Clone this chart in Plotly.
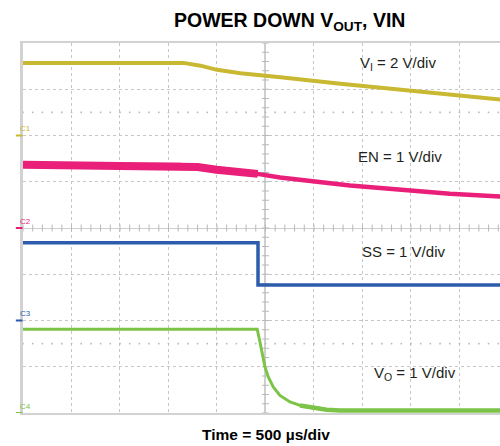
import numpy as np
import plotly.graph_objects as go

# ---- scope settings -------------------------------------------------------
T_PER_DIV = 500.0            # µs per horizontal division
X_RANGE = [-2500.0, 2418.0]  # trigger in the centre, right edge slightly cut
Y_RANGE = [-4.0, 4.0]        # eight vertical divisions

# channel: (ground position in divisions, volts per division, colour)
CH_VI = (2.0, 2.0, "#c9b832")
CH_EN = (0.0, 1.0, "#e91f7a")
CH_SS = (-2.0, 1.0, "#2c5cab")
CH_VO = (-4.0, 1.0, "#7cc447")

# ---- captured waveforms (time in µs, amplitude in volts) -------------------
t_vi = [-2500, -845, -670, -500, -258, 0, 155, 773, 1598, 2420]
v_vi = [3.14, 3.14, 3.02, 2.84, 2.69, 2.59, 2.52, 2.24, 1.91, 1.56]

t_en = [-2500, -880, -700, -503, -80, 150, 871, 1490, 1902, 2420]
v_en = [1.37, 1.36, 1.32, 1.26, 1.17, 1.09, 0.92, 0.81, 0.74, 0.68]

t_ss = [-2500, -77, -77, 2420]
v_ss = [1.68, 1.68, 0.77, 0.77]

t_vo = [-2500, -85, -57, -23, -5, 29, 80, 149, 253, 356, 493, 631, 768, 2420]
v_vo = [1.81, 1.81, 1.535, 1.174, 0.995, 0.778, 0.562, 0.381, 0.238, 0.164,
        0.108, 0.071, 0.056, 0.056]

T_SWITCH = -80  # EN noise band narrows once the regulator shuts off


def to_div(values, ch):
    offset, vdiv, _ = ch
    return [offset + v / vdiv for v in values]


fig = go.Figure()

# ---- graticule details: centre-line ticks and 10 %/90 % dot rows -----------
GRAT = "#b9b9b9"
minor_t = np.arange(X_RANGE[0], X_RANGE[1] + 1, T_PER_DIV / 5)
minor_y = np.arange(Y_RANGE[0], Y_RANGE[1] + 0.01, 0.2)
fig.add_trace(go.Scatter(x=minor_t, y=np.zeros_like(minor_t), mode="markers",
                         marker=dict(symbol="line-ns", size=5,
                                     line=dict(color=GRAT, width=1)),
                         hoverinfo="skip", showlegend=False))
fig.add_trace(go.Scatter(x=np.zeros_like(minor_y), y=minor_y, mode="markers",
                         marker=dict(symbol="line-ew", size=5,
                                     line=dict(color=GRAT, width=1)),
                         hoverinfo="skip", showlegend=False))
for yr in (2.5, -2.5):
    fig.add_trace(go.Scatter(x=minor_t, y=np.full_like(minor_t, yr), mode="markers",
                             marker=dict(symbol="square", size=1.6, color=GRAT),
                             hoverinfo="skip", showlegend=False))

# ---- waveforms -------------------------------------------------------------
def add_wave(t, v, ch, width):
    fig.add_trace(go.Scatter(x=t, y=to_div(v, ch), mode="lines",
                             line=dict(color=ch[2], width=width),
                             hoverinfo="skip", showlegend=False))

add_wave(t_vi, v_vi, CH_VI, 4)

# EN: wide noisy band before shutdown, thinner afterwards
n_sw = t_en.index(T_SWITCH) + 1
add_wave(t_en, v_en, CH_EN, 4.5)
add_wave(t_en[:n_sw], v_en[:n_sw], CH_EN, 8)

add_wave(t_ss, v_ss, CH_SS, 3.5)

add_wave(t_vo, v_vo, CH_VO, 3)
n_tail = 9
add_wave(t_vo[n_tail:], v_vo[n_tail:], CH_VO, 4.5)

# ---- channel ground markers ------------------------------------------------
for name, ch in (("C1", CH_VI), ("C2", CH_EN), ("C3", CH_SS), ("C4", CH_VO)):
    fig.add_shape(type="line", xref="paper", yref="y",
                  x0=-0.015, x1=-0.001, y0=ch[0], y1=ch[0],
                  line=dict(color=ch[2], width=2))
    fig.add_annotation(text=name, xref="paper", yref="y", x=-0.0095, y=ch[0],
                       yshift=7, showarrow=False,
                       font=dict(size=8, color=ch[2], family="Arial"))

# ---- scale labels ----------------------------------------------------------
LABEL_FONT = dict(family="Arial, Liberation Sans", size=15, color="#231f20")
labels = [
    ("V<sub>I</sub> = 2 V/div", 950, 3.56),
    ("EN = 1 V/div", 933, 1.54),
    ("SS = 1 V/div", 974, -0.50),
    ("V<sub>O</sub> = 1 V/div", 1095, -3.14),
]
for text, tx, ty in labels:
    fig.add_annotation(text=text, x=tx, y=ty, xref="x", yref="y",
                       xanchor="left", yanchor="middle", showarrow=False,
                       font=LABEL_FONT)

# title and time base
fig.add_annotation(text="<b>POWER DOWN V<sub>OUT</sub>, VIN</b>",
                   xref="paper", yref="paper", x=0.559, y=1.058,
                   xanchor="center", yanchor="middle", showarrow=False,
                   font=dict(family="Arial, Liberation Sans", size=19.5, color="#000"))
fig.add_annotation(text="<b>Time = 500 µs/div</b>",
                   xref="paper", yref="paper", x=0.509, y=-0.058,
                   xanchor="center", yanchor="middle", showarrow=False,
                   font=dict(family="Arial, Liberation Sans", size=15.5, color="#000"))

fig.update_layout(
    width=500, height=446,
    margin=dict(l=23, r=0, t=43, b=33),
    paper_bgcolor="white", plot_bgcolor="white",
    xaxis=dict(range=X_RANGE, tick0=0, dtick=T_PER_DIV, showgrid=True,
               gridcolor="#c6c6c6", gridwidth=1, griddash="dot",
               zeroline=True, zerolinecolor="#cfcfcf", zerolinewidth=1.5,
               showline=True, linecolor="#d2d2d2", linewidth=1.5, mirror=True,
               showticklabels=False, ticks=""),
    yaxis=dict(range=Y_RANGE, tick0=0, dtick=1, showgrid=True,
               gridcolor="#c6c6c6", gridwidth=1, griddash="dot",
               zeroline=True, zerolinecolor="#cfcfcf", zerolinewidth=1,
               showline=True, linecolor="#d2d2d2", linewidth=2.5, mirror=False,
               showticklabels=False, ticks=""),
)

fig.write_html("out.html")
